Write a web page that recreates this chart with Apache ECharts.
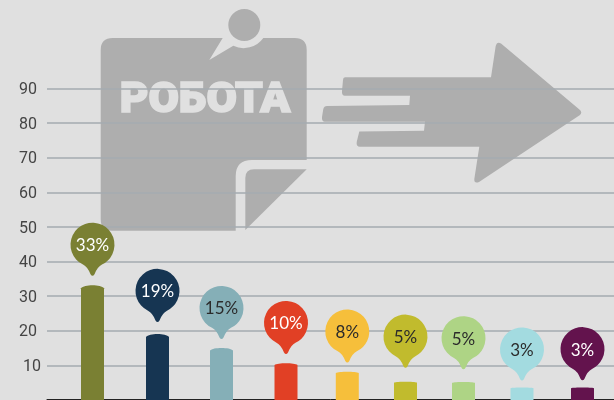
<!DOCTYPE html>
<html>
<head>
<meta charset="utf-8">
<script src="https://cdn.jsdelivr.net/npm/echarts@6/dist/echarts.min.js"></script>
<style>
  html, body { margin: 0; padding: 0; background: #e0e0e0; }
  #chart { width: 614px; height: 400px; }
</style>
</head>
<body>
<div id="chart"></div>
<script>
// data
var shareLabels = ['33%', '19%', '15%', '10%', '8%', '5%', '5%', '3%', '3%'];
var barValues = [33.2, 19.1, 15, 10.6, 8.2, 5.3, 5.2, 3.6, 3.6];
var yTicks = [0, 10, 20, 30, 40, 50, 60, 70, 80, 90];

// looks
var barColors = ['#7a8033', '#163552', '#85afb7', '#e14025', '#f6bf3b', '#c1bb2d', '#aed485', '#a3dbe0', '#63134d'];
var labelColors = ['#fff', '#fff', '#2b2b2b', '#fff', '#2b2b2b', '#2b2b2b', '#2b2b2b', '#2b2b2b', '#fff'];
// the bars are not evenly spaced in the original
var barNudge = [14, 16, 17, 18.5, 16.8, 12, 7, 2.5, 0];
var pinGap = [9, 11.6, 8.7, 9, 8.7, 13.6, 12.4, 6.7, 7];
var artColor = '#aeaeae';

var notePath = 'M112.7 38 L222.7 38 L209.3 60 L233.3 45.7 A24 24 0 0 0 263.3 38 L294.7 38 Q306.7 38 306.7 50 ' +
  'L306.7 160 L252 160 Q235.7 160 235.7 176 L235.7 230.7 L112 230.7 Q100.7 230.7 100.7 219 L100.7 50 Q100.7 38 112.7 38 Z';
var foldPath = 'M306.7 169.3 L245.3 230 L245.3 178 Q245.3 169.3 254 169.3 Z';
var arrowPath = 'M345 77.3 L491 77.3 L495.7 46 Q497 41 501 43.5 L580 110 Q582.5 112.7 580 115 L479 182 Q474 184 474.3 179 ' +
  'L479.3 146.7 L360 146.7 Q356 146.7 356.7 142 L359.3 131.5 L424 130.7 L425 121.7 L325 121.7 Q321.5 121.7 322 117 L323.3 109 Q324 106 327 106 L409.3 105 L410 95.7 L345 95.7 Q341.5 95.7 342 91 L343 80 Q343 77.3 345 77.3 Z';

function renderArt() {
  var fill = { fill: artColor };
  return {
    type: 'group',
    children: [
      { type: 'path', shape: { pathData: notePath }, style: fill },
      { type: 'path', shape: { pathData: foldPath }, style: fill },
      { type: 'circle', shape: { cx: 244.3, cy: 25, r: 16 }, style: fill },
      { type: 'path', shape: { pathData: arrowPath }, style: fill },
      {
        type: 'text', x: 205, y: 101.5, scaleX: 1.05, originX: 0, originY: 0,
        style: {
          text: 'РОБОТА', fill: '#e0e0e0', stroke: '#e0e0e0', lineWidth: 1.6,
          font: '900 42px "Roboto", sans-serif', align: 'center', verticalAlign: 'middle'
        }
      }
    ]
  };
}

function renderBar(params, api) {
  var i = params.dataIndex;
  var pt = api.coord([api.value(0), api.value(1)]);
  var base = api.coord([api.value(0), 0])[1];
  var cx = pt[0] + barNudge[i], top = pt[1];
  var l = cx - 11.5, r = cx + 11.5;
  var dome = Math.max(0.5, Math.min(3, api.value(1) / 6));
  var barPath = 'M' + l + ' ' + base + ' L' + l + ' ' + (top + dome) +
    ' C' + (l + 3) + ' ' + (top - dome / 3) + ' ' + (r - 3) + ' ' + (top - dome / 3) + ' ' + r + ' ' + (top + dome) +
    ' L' + r + ' ' + base + ' Z';

  var pinY = top - pinGap[i] - 31.4;
  var p = function (dx, dy) { return (cx + dx) + ' ' + (pinY + dy); };
  var pin = 'M' + p(-9.5, 19.8) + ' A22 22 0 1 1 ' + p(9.5, 19.8) +
    ' Q' + p(5, 22) + ' ' + p(2, 29.5) + ' Q' + p(0, 32.5) + ' ' + p(-2, 29.5) + ' Q' + p(-5, 22) + ' ' + p(-9.5, 19.8) + ' Z';

  return {
    type: 'group',
    children: [
      { type: 'path', shape: { pathData: barPath }, style: { fill: barColors[i] } },
      { type: 'path', shape: { pathData: pin }, style: { fill: barColors[i] } },
      {
        type: 'text', x: cx, y: pinY + 1,
        style: { text: shareLabels[i], fill: labelColors[i], font: '17px "Lato", sans-serif', align: 'center', verticalAlign: 'middle' }
      }
    ]
  };
}

var myChart = echarts.init(document.getElementById('chart'));
myChart.setOption({
  animation: false,
  backgroundColor: '#e0e0e0',
  grid: { left: 47, right: 0, top: 88.6, bottom: -0.7 },
  xAxis: {
    type: 'category',
    data: shareLabels,
    offset: -1,
    axisLine: { onZero: false, lineStyle: { color: '#222', width: 1 } },
    axisTick: { show: false },
    axisLabel: { show: false },
    splitLine: { show: false }
  },
  yAxis: {
    type: 'value',
    min: yTicks[0],
    max: yTicks[yTicks.length - 1],
    interval: yTicks[1] - yTicks[0],
    axisLine: { show: false },
    axisTick: { show: false },
    axisLabel: {
      margin: 6,
      color: '#444',
      fontFamily: '"Liberation Sans Narrow", "Roboto", sans-serif',
      fontSize: 16,
      formatter: function (v) {
        if (v === 0) return '';
        return v === 10 ? '{t|10}' : '{a|' + v + '}';
      },
      rich: {
        a: { padding: [3, 4, 0, 0] },
        t: { padding: [3, 0, 0, 0] }
      }
    },
    splitLine: { lineStyle: { color: '#a5abb0', width: 1.5 } }
  },
  series: [
    {
      type: 'custom',
      coordinateSystem: 'none',
      z: -1,
      silent: true,
      data: [[0]],
      renderItem: renderArt
    },
    {
      type: 'custom',
      data: barValues.map(function (v, i) { return [i, v]; }),
      encode: { x: 0, y: 1 },
      renderItem: renderBar
    }
  ]
});
</script>
</body>
</html>
